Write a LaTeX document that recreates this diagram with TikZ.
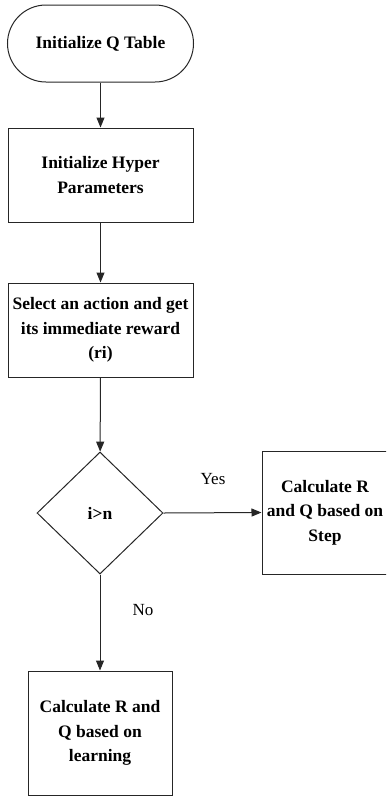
\documentclass[tikz,border=0pt]{standalone}
\usepackage{fontspec}
\setmainfont{LiberationSerif}[Extension=.ttf,UprightFont=*-Regular,BoldFont=*-Bold]
\usetikzlibrary{shapes.geometric,arrows.meta}
\begin{document}
\begin{tikzpicture}[x=1pt,y=-1pt,
  every node/.style={font=\fontsize{17.5}{24.5}\selectfont},
  boxstyle/.style={draw=black!85,line width=1pt,rectangle,inner sep=0pt,align=center,font=\fontsize{17.5}{24.5}\selectfont\bfseries},
  decstyle/.style={draw=black!85,line width=1pt,diamond,inner sep=0pt,minimum width=126pt,minimum height=122pt,font=\fontsize{17.5}{24.5}\selectfont\bfseries},
  arr/.style={draw=black!85,line width=1pt,-{Triangle[length=10pt,width=8pt]}},
  lab/.style={font=\fontsize{17}{20}\selectfont}]
\useasboundingbox (0,0) rectangle (386,796);
\begin{scope}
\clip (0,0) rectangle (386,796);
\node[boxstyle,rounded corners=38.5pt,minimum width=186pt,minimum height=77pt] (t1) at (100.5,43.5) {Initialize Q Table};
\node[boxstyle,minimum width=185pt,minimum height=94pt] (b2) at (100.5,175) {Initialize Hyper\\Parameters};
\node[boxstyle,minimum width=185pt,minimum height=94pt] (b3) at (100.5,330) {Select an action and get\\its immediate reward\\(ri)};
\node[decstyle] (d) at (100,513) {i>n};
\node[boxstyle,minimum width=126pt,minimum height=123pt] (r) at (325,512.5) {Calculate R\\and Q based on\\Step};
\node[boxstyle,minimum width=144pt,minimum height=124pt] (b5) at (100,733) {Calculate R and\\Q based on\\learning};
\draw[arr] (t1) -- (b2);
\draw[arr] (b2) -- (b3);
\draw[arr] (b3) -- (d);
\draw[arr] (d.east) -- (r.west);
\draw[arr] (d.south) -- (b5.north);
\node[lab] (yes) at (213,479) {Yes};
\node[lab] (no) at (143,610) {No};
\end{scope}
\end{tikzpicture}
\end{document}
